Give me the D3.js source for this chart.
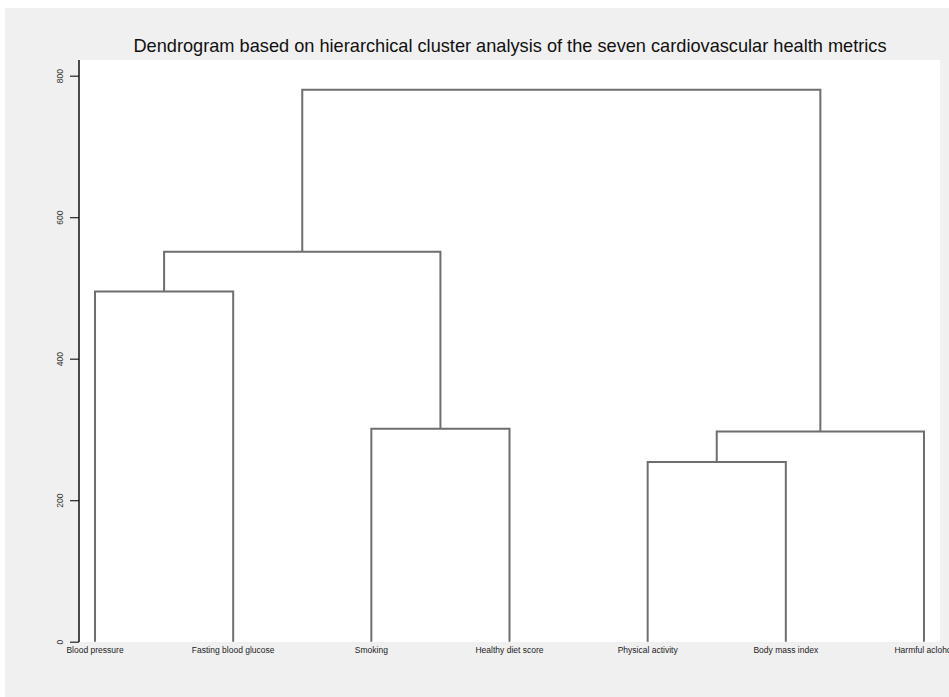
<!DOCTYPE html>
<html>
<head>
<meta charset="utf-8">
<script src="https://cdn.jsdelivr.net/npm/d3@7"></script>
<style>
html,body{margin:0;padding:0;background:#fff;}
svg{display:block;}
</style>
</head>
<body>
<svg id="chart" width="949" height="697"></svg>
<script>
// ---- data ----
const leaves = ["Blood pressure","Fasting blood glucose","Smoking","Healthy diet score","Physical activity","Body mass index","Harmful aclohol"];
const nodeNames = ["A","B","C","D","E","F"];
const nodeChildren = [
  ["Blood pressure","Fasting blood glucose"],
  ["Smoking","Healthy diet score"],
  ["Physical activity","Body mass index"],
  ["C","Harmful aclohol"],
  ["A","B"],
  ["E","D"]
];
const nodeHeights = [495, 301, 254, 297, 551, 780];
const yTicks = [0, 200, 400, 600, 800];
const title = "Dendrogram based on hierarchical cluster analysis of the seven cardiovascular health metrics";

// ---- layout ----
const W = 949, H = 697;
const plot = {x0: 79, x1: 940, y0: 60, y1: 642};
const svg = d3.select("#chart");

svg.append("rect").attr("x",5).attr("y",8).attr("width",W-5).attr("height",H-8).attr("fill","#f0f0f0");
svg.append("rect").attr("x",plot.x0).attr("y",plot.y0).attr("width",plot.x1-plot.x0).attr("height",plot.y1-plot.y0).attr("fill","#fff");

const x = d3.scalePoint().domain(leaves).range([plot.x0, plot.x1]).padding(0.116);
const y = d3.scaleLinear().domain([0, 800]).range([641.7, 75.7]);

// positions
const pos = {};
leaves.forEach(l => pos[l] = {x: x(l), y: y(0)});
nodeNames.forEach((n, i) => {
  const [a, b] = nodeChildren[i];
  pos[n] = {x: (pos[a].x + pos[b].x) / 2, y: y(nodeHeights[i])};
});

// links
const g = svg.append("g");
nodeNames.forEach((n, i) => {
  const [a, b] = nodeChildren[i];
  const p = d3.path();
  p.moveTo(pos[a].x, pos[a].y);
  p.lineTo(pos[a].x, pos[n].y);
  p.lineTo(pos[b].x, pos[n].y);
  p.lineTo(pos[b].x, pos[b].y);
  g.append("path").attr("d", p.toString())
    .attr("fill","none").attr("stroke","#6e6e6e").attr("stroke-width",2)
    .attr("stroke-linejoin","miter");
});

// y axis
const axis = svg.append("g").attr("transform",`translate(${plot.x0},0)`)
  .call(d3.axisLeft(y).tickValues(yTicks).tickSize(9).tickFormat(d3.format("d")));
axis.select(".domain").remove();
axis.selectAll(".tick line").attr("stroke","#222").attr("stroke-width",1.2);
axis.selectAll(".tick text")
  .attr("x",null).attr("dy",null)
  .attr("transform","translate(-16,0) rotate(-90)")
  .attr("text-anchor","middle")
  .attr("font-family","Liberation Sans, Arial, sans-serif")
  .attr("font-size",8.5).attr("fill","#333");
svg.append("line").attr("x1",plot.x0).attr("x2",plot.x0).attr("y1",plot.y0).attr("y2",plot.y1)
  .attr("stroke","#111").attr("stroke-width",1.5);

// leaf labels
svg.append("g").selectAll("text").data(leaves).join("text")
  .attr("x", d => x(d)).attr("y", 653)
  .attr("text-anchor","middle")
  .attr("font-family","Liberation Sans, Arial, sans-serif")
  .attr("font-size",8.5).attr("fill","#222")
  .text(d => d);

// title
svg.append("text").attr("x",510).attr("y",52).attr("text-anchor","middle")
  .attr("font-family","Liberation Sans, Arial, sans-serif")
  .attr("font-size",18.2).attr("fill","#111")
  .text(title);
</script>
</body>
</html>
